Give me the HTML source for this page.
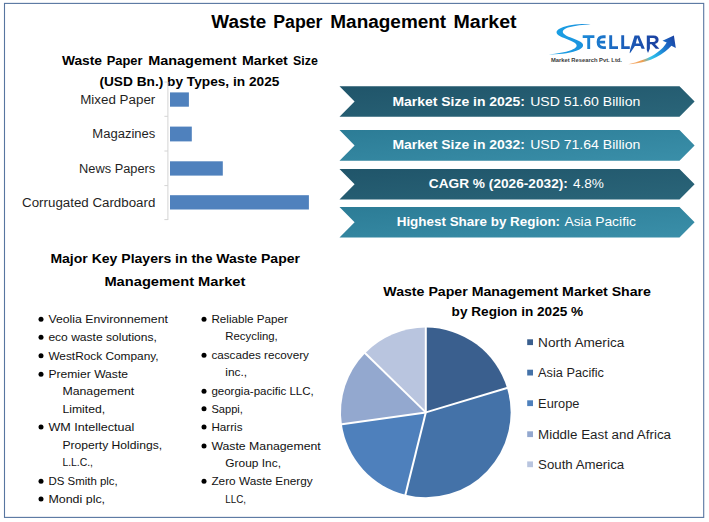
<!DOCTYPE html>
<html><head><meta charset="utf-8"><title>Waste Paper Management Market</title>
<style>html,body{margin:0;padding:0;background:#fff;}body{width:709px;height:522px;overflow:hidden;font-family:"Liberation Sans",sans-serif;}svg{display:block;}text{font-family:"Liberation Sans",sans-serif;}</style>
</head><body>
<svg width="709" height="522" viewBox="0 0 709 522">
<defs>
<linearGradient id="gd" x1="0" y1="0" x2="1" y2="1"><stop offset="0" stop-color="#20556a"/><stop offset="1" stop-color="#2a6579"/></linearGradient>
<linearGradient id="gl" x1="0" y1="0" x2="1" y2="1"><stop offset="0" stop-color="#2c7c96"/><stop offset="1" stop-color="#3a8fa9"/></linearGradient>
<linearGradient id="gs" x1="0" y1="0" x2="1" y2="0"><stop offset="0" stop-color="#1aa3e6"/><stop offset="1" stop-color="#1b8fdc"/></linearGradient>
<linearGradient id="gt" gradientUnits="userSpaceOnUse" x1="582" y1="0" x2="660" y2="0"><stop offset="0" stop-color="#1b8ad8"/><stop offset="0.5" stop-color="#1c62bd"/><stop offset="1" stop-color="#1b3f9f"/></linearGradient>
<linearGradient id="ga" gradientUnits="userSpaceOnUse" x1="628" y1="64" x2="676" y2="36"><stop offset="0" stop-color="#f6b684"/><stop offset="0.25" stop-color="#f0a050"/><stop offset="0.4" stop-color="#35c4ea"/><stop offset="0.55" stop-color="#22a6e4"/><stop offset="0.75" stop-color="#1b6cc8"/><stop offset="1" stop-color="#1a3a9c"/></linearGradient>
</defs>
<rect x="0" y="0" width="709" height="522" fill="#ffffff"/>
<rect x="4.5" y="3.4" width="699.2" height="514" fill="none" stroke="#5775a0" stroke-width="1.1"/>
<text x="211.3" y="27.5" font-size="17.6" font-weight="bold" fill="#000" textLength="54.9" lengthAdjust="spacingAndGlyphs">Waste</text>
<text x="273.2" y="27.5" font-size="17.6" font-weight="bold" fill="#000" textLength="49.3" lengthAdjust="spacingAndGlyphs">Paper</text>
<text x="330.3" y="27.5" font-size="17.6" font-weight="bold" fill="#000" textLength="115.9" lengthAdjust="spacingAndGlyphs">Management</text>
<text x="453.5" y="27.5" font-size="17.6" font-weight="bold" fill="#000" textLength="63.1" lengthAdjust="spacingAndGlyphs">Market</text>
<text x="61.9" y="65.4" font-size="13" font-weight="bold" fill="#000" textLength="40.1" lengthAdjust="spacingAndGlyphs">Waste</text>
<text x="106.7" y="65.4" font-size="13" font-weight="bold" fill="#000" textLength="35.8" lengthAdjust="spacingAndGlyphs">Paper</text>
<text x="148.2" y="65.4" font-size="13" font-weight="bold" fill="#000" textLength="88.3" lengthAdjust="spacingAndGlyphs">Management</text>
<text x="242.0" y="65.4" font-size="13" font-weight="bold" fill="#000" textLength="45.8" lengthAdjust="spacingAndGlyphs">Market</text>
<text x="293.1" y="65.4" font-size="13" font-weight="bold" fill="#000" textLength="24.8" lengthAdjust="spacingAndGlyphs">Size</text>
<text x="99.4" y="85.5" font-size="13" font-weight="bold" fill="#000" textLength="180.0" lengthAdjust="spacingAndGlyphs">(USD Bn.) by Types, in 2025</text>
<path d="M167.9 82V220M164.4 82h3.5M164.4 116.3h3.5M164.4 151h3.5M164.4 185.6h3.5M164.4 219.6h3.5" stroke="#d4d4d4" stroke-width="1" fill="none"/>
<rect x="170" y="92.4" width="18.9" height="14.3" fill="#4f81bd"/>
<rect x="170" y="126.6" width="21.8" height="14.8" fill="#4f81bd"/>
<rect x="170" y="161.3" width="52.8" height="14.3" fill="#4f81bd"/>
<rect x="170" y="195.2" width="138.9" height="14.3" fill="#4f81bd"/>
<text x="80.2" y="103.8" font-size="12" font-weight="normal" fill="#1f1f1f" textLength="75.1" lengthAdjust="spacingAndGlyphs">Mixed Paper</text>
<text x="92.3" y="138.1" font-size="12" font-weight="normal" fill="#1f1f1f" textLength="63.0" lengthAdjust="spacingAndGlyphs">Magazines</text>
<text x="79.1" y="172.6" font-size="12" font-weight="normal" fill="#1f1f1f" textLength="76.2" lengthAdjust="spacingAndGlyphs">News Papers</text>
<text x="22.1" y="207.0" font-size="12" font-weight="normal" fill="#1f1f1f" textLength="133.2" lengthAdjust="spacingAndGlyphs">Corrugated Cardboard</text>
<path d="M339.5 86.2H679.5L694.6 101.45L679.5 116.7H339.5L354.6 101.45Z" fill="url(#gd)"/>
<path d="M339.5 130.0H679.5L694.6 145.40L679.5 160.8H339.5L354.6 145.40Z" fill="url(#gl)"/>
<path d="M339.5 169.1H679.5L694.6 184.35L679.5 199.6H339.5L354.6 184.35Z" fill="url(#gd)"/>
<path d="M339.5 207.1H679.5L694.6 222.35L679.5 237.6H339.5L354.6 222.35Z" fill="url(#gl)"/>
<text x="392.4" y="105.8" font-size="13" font-weight="bold" fill="#fff" textLength="132.6" lengthAdjust="spacingAndGlyphs">Market Size in 2025:</text>
<text x="530.2" y="105.8" font-size="13" font-weight="normal" fill="#fff" textLength="110.1" lengthAdjust="spacingAndGlyphs">USD 51.60 Billion</text>
<text x="392.4" y="149.0" font-size="13" font-weight="bold" fill="#fff" textLength="132.6" lengthAdjust="spacingAndGlyphs">Market Size in 2032:</text>
<text x="530.2" y="149.0" font-size="13" font-weight="normal" fill="#fff" textLength="110.1" lengthAdjust="spacingAndGlyphs">USD 71.64 Billion</text>
<text x="428.8" y="187.7" font-size="13" font-weight="bold" fill="#fff" textLength="139.1" lengthAdjust="spacingAndGlyphs">CAGR % (2026-2032):</text>
<text x="572.9" y="187.7" font-size="13" font-weight="normal" fill="#fff" textLength="31.0" lengthAdjust="spacingAndGlyphs">4.8%</text>
<text x="396.7" y="225.9" font-size="13" font-weight="bold" fill="#fff" textLength="163.4" lengthAdjust="spacingAndGlyphs">Highest Share by Region:</text>
<text x="564.4" y="225.9" font-size="13" font-weight="normal" fill="#fff" textLength="71.6" lengthAdjust="spacingAndGlyphs">Asia Pacific</text>
<text x="50.4" y="262.8" font-size="13" font-weight="bold" fill="#000" textLength="249.6" lengthAdjust="spacingAndGlyphs">Major Key Players in the Waste Paper</text>
<text x="104.4" y="285.9" font-size="13" font-weight="bold" fill="#000" textLength="141.0" lengthAdjust="spacingAndGlyphs">Management Market</text>
<circle cx="41.0" cy="319.3" r="2.5" fill="#000"/>
<text x="48.4" y="323.0" font-size="11.3" font-weight="normal" fill="#111" textLength="119.5" lengthAdjust="spacingAndGlyphs">Veolia Environnement</text>
<circle cx="41.0" cy="337.3" r="2.5" fill="#000"/>
<text x="48.4" y="341.0" font-size="11.3" font-weight="normal" fill="#111" textLength="108.5" lengthAdjust="spacingAndGlyphs">eco waste solutions,</text>
<circle cx="41.0" cy="355.8" r="2.5" fill="#000"/>
<text x="48.4" y="359.5" font-size="11.3" font-weight="normal" fill="#111" textLength="110.2" lengthAdjust="spacingAndGlyphs">WestRock Company,</text>
<circle cx="41.0" cy="374.3" r="2.5" fill="#000"/>
<text x="48.4" y="378.0" font-size="11.3" font-weight="normal" fill="#111" textLength="79.6" lengthAdjust="spacingAndGlyphs">Premier Waste</text>
<text x="62.4" y="395.0" font-size="11.3" font-weight="normal" fill="#111" textLength="71.9" lengthAdjust="spacingAndGlyphs">Management</text>
<text x="62.4" y="412.6" font-size="11.3" font-weight="normal" fill="#111" textLength="42.7" lengthAdjust="spacingAndGlyphs">Limited,</text>
<circle cx="41.0" cy="427.1" r="2.5" fill="#000"/>
<text x="48.4" y="430.8" font-size="11.3" font-weight="normal" fill="#111" textLength="85.9" lengthAdjust="spacingAndGlyphs">WM Intellectual</text>
<text x="62.4" y="448.8" font-size="11.3" font-weight="normal" fill="#111" textLength="99.8" lengthAdjust="spacingAndGlyphs">Property Holdings,</text>
<text x="62.4" y="466.0" font-size="11.3" font-weight="normal" fill="#111" textLength="30.6" lengthAdjust="spacingAndGlyphs">L.L.C.,</text>
<circle cx="41.0" cy="481.3" r="2.5" fill="#000"/>
<text x="48.4" y="485.0" font-size="11.3" font-weight="normal" fill="#111" textLength="69.4" lengthAdjust="spacingAndGlyphs">DS Smith plc,</text>
<circle cx="41.0" cy="499.0" r="2.5" fill="#000"/>
<text x="48.4" y="502.7" font-size="11.3" font-weight="normal" fill="#111" textLength="56.7" lengthAdjust="spacingAndGlyphs">Mondi plc,</text>
<circle cx="204.0" cy="319.3" r="2.5" fill="#000"/>
<text x="211.4" y="323.0" font-size="11.3" font-weight="normal" fill="#111" textLength="76.6" lengthAdjust="spacingAndGlyphs">Reliable Paper</text>
<text x="225.3" y="340.2" font-size="11.3" font-weight="normal" fill="#111" textLength="52.5" lengthAdjust="spacingAndGlyphs">Recycling,</text>
<circle cx="204.0" cy="355.3" r="2.5" fill="#000"/>
<text x="211.4" y="359.0" font-size="11.3" font-weight="normal" fill="#111" textLength="97.5" lengthAdjust="spacingAndGlyphs">cascades recovery</text>
<text x="225.3" y="376.4" font-size="11.3" font-weight="normal" fill="#111" textLength="21.8" lengthAdjust="spacingAndGlyphs">inc.,</text>
<circle cx="204.0" cy="391.3" r="2.5" fill="#000"/>
<text x="211.4" y="395.0" font-size="11.3" font-weight="normal" fill="#111" textLength="102.4" lengthAdjust="spacingAndGlyphs">georgia-pacific LLC,</text>
<circle cx="204.0" cy="408.8" r="2.5" fill="#000"/>
<text x="211.4" y="412.5" font-size="11.3" font-weight="normal" fill="#111" textLength="31.5" lengthAdjust="spacingAndGlyphs">Sappi,</text>
<circle cx="204.0" cy="427.1" r="2.5" fill="#000"/>
<text x="211.4" y="430.8" font-size="11.3" font-weight="normal" fill="#111" textLength="31.1" lengthAdjust="spacingAndGlyphs">Harris</text>
<circle cx="204.0" cy="446.0" r="2.5" fill="#000"/>
<text x="211.4" y="449.7" font-size="11.3" font-weight="normal" fill="#111" textLength="109.3" lengthAdjust="spacingAndGlyphs">Waste Management</text>
<text x="225.3" y="466.8" font-size="11.3" font-weight="normal" fill="#111" textLength="55.7" lengthAdjust="spacingAndGlyphs">Group Inc,</text>
<circle cx="204.0" cy="481.3" r="2.5" fill="#000"/>
<text x="211.4" y="485.0" font-size="11.3" font-weight="normal" fill="#111" textLength="101.3" lengthAdjust="spacingAndGlyphs">Zero Waste Energy</text>
<text x="225.3" y="503.0" font-size="11.3" font-weight="normal" fill="#111" textLength="20.7" lengthAdjust="spacingAndGlyphs">LLC,</text>
<text x="383.3" y="295.8" font-size="13" font-weight="bold" fill="#000" textLength="267.7" lengthAdjust="spacingAndGlyphs">Waste Paper Management Market Share</text>
<text x="451.6" y="315.9" font-size="13" font-weight="bold" fill="#000" textLength="131.6" lengthAdjust="spacingAndGlyphs">by Region in 2025 %</text>
<path d="M425.8 412.4L425.80 327.60A84.8 84.8 0 0 1 507.02 388.03Z" fill="#3a5f8e"/>
<path d="M425.8 412.4L507.02 388.03A84.8 84.8 0 0 1 405.43 494.72Z" fill="#4472a8"/>
<path d="M425.8 412.4L405.43 494.72A84.8 84.8 0 0 1 341.85 424.35Z" fill="#4e80bc"/>
<path d="M425.8 412.4L341.85 424.35A84.8 84.8 0 0 1 365.11 353.17Z" fill="#93a8cf"/>
<path d="M425.8 412.4L365.11 353.17A84.8 84.8 0 0 1 425.80 327.60Z" fill="#b9c5df"/>
<path d="M425.8 412.4L425.80 325.90" stroke="#fff" stroke-width="2" stroke-linecap="butt"/>
<path d="M425.8 412.4L508.65 387.54" stroke="#fff" stroke-width="2" stroke-linecap="butt"/>
<path d="M425.8 412.4L405.02 496.36" stroke="#fff" stroke-width="2" stroke-linecap="butt"/>
<path d="M425.8 412.4L340.17 424.59" stroke="#fff" stroke-width="2" stroke-linecap="butt"/>
<path d="M425.8 412.4L363.90 351.99" stroke="#fff" stroke-width="2" stroke-linecap="butt"/>
<rect x="527.2" y="339.3" width="5.8" height="5.8" fill="#3a5f8e"/>
<text x="538.1" y="346.6" font-size="12" font-weight="normal" fill="#1f1f1f" textLength="86.2" lengthAdjust="spacingAndGlyphs">North America</text>
<rect x="527.2" y="369.7" width="5.8" height="5.8" fill="#4472a8"/>
<text x="538.1" y="377.0" font-size="12" font-weight="normal" fill="#1f1f1f" textLength="65.9" lengthAdjust="spacingAndGlyphs">Asia Pacific</text>
<rect x="527.2" y="400.3" width="5.8" height="5.8" fill="#4e80bc"/>
<text x="538.1" y="407.6" font-size="12" font-weight="normal" fill="#1f1f1f" textLength="41.3" lengthAdjust="spacingAndGlyphs">Europe</text>
<rect x="527.2" y="431.3" width="5.8" height="5.8" fill="#93a8cf"/>
<text x="538.1" y="438.6" font-size="12" font-weight="normal" fill="#1f1f1f" textLength="132.9" lengthAdjust="spacingAndGlyphs">Middle East and Africa</text>
<rect x="527.2" y="461.4" width="5.8" height="5.8" fill="#b9c5df"/>
<text x="538.1" y="468.7" font-size="12" font-weight="normal" fill="#1f1f1f" textLength="86.1" lengthAdjust="spacingAndGlyphs">South America</text>
<g id="logo">
<path d="M590.8 24.2C580 23.6 568 24.8 561 28C556.5 30 555 32.5 558.5 35.2C562 37.8 571 40 575 43C578 45.5 577 48 571 50.2C565 52.3 557 53.6 549 54.4C560 54.6 572 53.2 579 49.8C584 47.3 584.5 44.2 580 41.6C575 38.8 566 36.5 563.5 33.5C561.5 31 564 28.8 569 27.3C575 25.5 583 24.6 590.8 24.2Z" fill="url(#gs)"/>
<g fill="none" stroke="url(#gt)" stroke-width="2.9" stroke-linejoin="miter">
<path d="M582.7 36.6H594.4M588.7 36V49"/>
<path d="M605.6 36.7H603.2C599.2 36.7 598.1 39.2 598.1 42.1C598.1 45.2 599.2 47.6 603.2 47.6H605.9M598.6 42.1H605.1"/>
<path d="M610.7 35.3V47.6H618"/>
<path d="M622.7 35.3V47.6H629.8"/>
</g>
<path d="M634.6 35.4H639.2L644.8 48.8H641.6L640.4 45.9H634.9L630.6 52.6L629.6 53.2L630.2 49.5ZM635.8 43.5H639.5L637.2 37.8Z" fill="url(#gt)" fill-rule="evenodd"/>
<path d="M646.8 35.5H653.5C657 35.5 658.6 37.3 658.6 39.8C658.6 42 657.3 43.4 655 43.9L659.4 48.8H655.8L651.6 44.2H649.9V48.5L648 53.1L646.8 50ZM649.9 37.9V41.9H653.2C654.8 41.9 655.6 41.1 655.6 39.9C655.6 38.6 654.8 37.9 653.2 37.9Z" fill="url(#gt)" fill-rule="evenodd"/>
<path d="M628.2 64.3C634 63 637 61.8 640.9 60.5C645 59.2 648.5 57.8 651.9 55.9C655.5 53.8 658.5 51.8 661.2 49.2C663.5 47 665.2 44.8 666.7 42.4L662.5 40.7L673.9 35.6L675.8 48.1L671.4 45.8C669.8 47.8 667.8 49.6 665.5 51.3C662.5 53.5 659.5 55.5 656.1 57.2C652.5 59 649 60.4 645.2 61.5C640 62.9 634 64 628.2 64.3Z" fill="url(#ga)"/>
<text x="551" y="62.4" font-size="5.6" font-weight="bold" fill="#3a3a3a" textLength="71" lengthAdjust="spacingAndGlyphs">Market Research Pvt. Ltd.</text>
</g>
</svg></body></html>
